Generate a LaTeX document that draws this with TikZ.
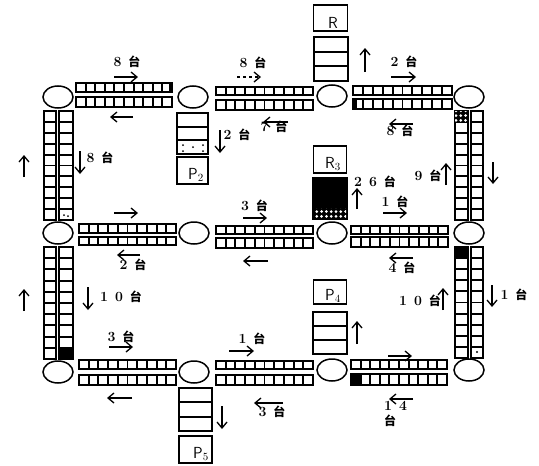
\documentclass[tikz,border=0pt]{standalone}
\usepackage{fontspec}
\newfontfamily\cjk{Noto Sans CJK SC}
\usepackage{tikz}
\usetikzlibrary{arrows.meta, patterns.meta, shapes.geometric}
\newcommand{\tai}{{\fontsize{12}{12}\cjk\bfseries 台}}
% belts: left, top, right, bottom
\newcommand{\hbelt}[4]{
  \draw[belt] (#1,#2) rectangle (#3,#4);
  \foreach \k in {1,...,9} \draw[belt] ({#1+\k*(#3-#1)/10},#2) -- ({#1+\k*(#3-#1)/10},#4);
}
\newcommand{\vbelt}[4]{
  \draw[belt] (#1,#2) rectangle (#3,#4);
  \foreach \k in {1,...,9} \draw[belt] (#1,{#2+\k*(#4-#2)/10}) -- (#3,{#2+\k*(#4-#2)/10});
}
\newcommand{\buffer}[4]{
  \draw[belt] (#1,#2) rectangle (#3,#4);
  \foreach \k in {1,2} \draw[belt] (#1,{#2+\k*(#4-#2)/3}) -- (#3,{#2+\k*(#4-#2)/3});
}

\begin{document}
\begin{tikzpicture}[
  x=1pt, y=-1pt,
  every node/.style={inner sep=0pt},
  belt/.style={draw=black, line width=1.9pt},
  turn/.style={draw=black, line width=1.5pt, ellipse, minimum width=30pt, minimum height=22pt},
  machine/.style={draw=black, line width=1.5pt, minimum width=33pt, minimum height=26pt},
  flow/.style={-{Straight Barb[length=6pt,width=10pt]}, line width=1.3pt, color=black},
  count/.style={font=\fontsize{14}{15}\selectfont\bfseries, align=left},
  plate/.style={font=\fontsize{16}{16}\sffamily},
  beads/.style={pattern={Dots[radius=1.5pt,distance=4.8pt]}, pattern color=white},
]
\useasboundingbox (0,0) rectangle (539,466);

% Turntables
\node[turn] (t11) at (58,97)  {};
\node[turn] (t12) at (193,97) {};
\node[turn] (t13) at (332,96) {};
\node[turn] (t14) at (469,97) {};
\node[turn] (t21) at (58,233)  {};
\node[turn] (t22) at (194,233) {};
\node[turn] (t23) at (332,233) {};
\node[turn] (t24) at (469,233) {};
\node[turn] (t31) at (58,372)  {};
\node[turn] (t32) at (194,372) {};
\node[turn] (t33) at (332,370) {};
\node[turn] (t34) at (469,370) {};

% Row 1 belts
\hbelt{76}{83}{172}{92}
\hbelt{76}{97}{172}{107}
\hbelt{216}{87}{313}{95}
\hbelt{216}{100}{313}{110}
\hbelt{353}{86}{452}{95}
\hbelt{353}{99}{452}{109}
% Row 2 belts
\hbelt{79}{224}{176}{233}
\hbelt{79}{237}{176}{245}
\hbelt{216}{226}{313}{234}
\hbelt{216}{238}{313}{248}
\hbelt{351}{226}{448}{234}
\hbelt{351}{237}{448}{247}
% Row 3 belts
\hbelt{79}{360}{176}{369}
\hbelt{79}{375}{176}{385}
\hbelt{216}{361}{313}{369}
\hbelt{216}{375}{313}{385}
\hbelt{351}{360}{447}{369}
\hbelt{351}{374}{447}{385}

% Side belts
\vbelt{44}{111}{56}{220}
\vbelt{59}{111}{73}{220}
\vbelt{44}{247}{56}{359}
\vbelt{59}{247}{73}{359}
\vbelt{455}{111}{468}{220}
\vbelt{471}{111}{483}{220}
\vbelt{455}{247}{468}{358}
\vbelt{471}{247}{483}{358}

% Occupied cells
\fill (59,348) rectangle (73,359);
\fill (455,247) rectangle (468,258);
\fill (351,374) rectangle (361,385);
\fill (353,99) rectangle (357,109);
\fill (169,84) rectangle (172,91);
\fill (455,111) rectangle (468,122);
\fill[beads] (455,111) rectangle (468,122);
\fill (64,215) circle (1pt) (68,216) circle (1pt);
\fill (477,352) circle (1.2pt);

% Machines
\node[machine, minimum width=34pt] (p1) at (330.5,18)  {};
\node[machine, minimum width=31pt, minimum height=27pt] (p2) at (192.5,170.5) {};
\node[machine, minimum height=27pt] (p3) at (330,159.5) {};
\node[machine, minimum height=24pt] (p4) at (330,292) {};
\node[machine, minimum height=27pt] (p5) at (195.5,449.5) {};
\node[plate] (p1t) at (333,23) {R};
\node[plate] (p2t) at (196,175) {P$_2$};
\node[plate] (p3t) at (333,164) {R$_3$};
\node[plate] (p4t) at (333,296) {P$_4$};
\node[plate] (p5t) at (201,454) {P$_5$};

% Buffers
\buffer{314}{37}{348}{81}
\buffer{177}{113}{208}{154}
\buffer{313}{312}{347}{354}
\buffer{179}{388}{212}{431}
\fill (183,145) circle (1pt) (193,147) circle (1pt) (203,145) circle (1pt) (183,151) circle (1pt) (203,151) circle (1pt);
\draw[belt, fill=black] (313,178) rectangle (347,219);
\fill[beads] (314,208) rectangle (346,218);

% Top row flows
\draw[flow] (114,77) -- (138,77);
\node[count] (n1) at (127,62) {8\enspace\tai};
\draw[flow] (133,117) -- (110,117);
\draw[flow, dashed] (237,77) -- (261,77);
\node[count] (n2) at (253,63) {8\enspace\tai};
\draw[flow] (288,122) -- (263,122);
\node[count] (n3) at (274,127) {7\enspace\tai};
\draw[flow] (365,72) -- (365,48);
\draw[flow] (391,77) -- (416,77);
\node[count] (n4) at (404,62) {2\enspace\tai};
\draw[flow] (413,124) -- (389,124);
\node[count] (n5) at (400,131) {8\enspace\tai};

% Upper columns
\draw[flow] (24,177) -- (24,155);
\draw[flow] (80,151) -- (80,174);
\node[count] (n6) at (100,158) {8\enspace\tai};
\draw[flow] (220,130) -- (220,153);
\node[count] (n7) at (237,135) {2\enspace\tai};
\draw[flow] (357,209) -- (357,188);
\node[count] (n8) at (375,182) {2\enspace 6\enspace\tai};
\draw[flow] (446,185) -- (446,163);
\node[count] (n9) at (428,176) {9\enspace\tai};
\draw[flow] (493,162) -- (493,184);

% Middle row flows
\draw[flow] (114,213) -- (138,213);
\draw[flow] (243,218) -- (267,218);
\node[count] (n10) at (254.5,206) {3\enspace\tai};
\draw[flow] (383,213) -- (407,213);
\node[count] (n11) at (395,202) {1\enspace\tai};
\draw[flow] (140,255) -- (117,255);
\node[count] (n12) at (133,265) {2\enspace\tai};
\draw[flow] (268,261) -- (243,261);
\draw[flow] (413,258) -- (389,258);
\node[count] (n13) at (402,268) {4\enspace\tai};

% Lower columns
\draw[flow] (24,311) -- (24,289);
\draw[flow] (88,287) -- (88,310);
\node[count] (n14) at (121,297) {1\enspace 0\enspace\tai};
\draw[flow] (357,344) -- (357,321);
\draw[flow] (443,310) -- (443,288);
\node[count] (n15) at (420,301) {1\enspace 0\enspace\tai};
\draw[flow] (492,285) -- (492,307);
\node[count] (n16) at (514,295) {1\enspace\tai};

% Bottom row flows
\draw[flow] (109,347) -- (133,347);
\node[count] (n17) at (121,337) {3\enspace\tai};
\draw[flow] (229,351) -- (254,351);
\node[count] (n18) at (252,339) {1\enspace\tai};
\draw[flow] (388,356) -- (412,356);
\draw[flow] (132,398) -- (107,398);
\draw[flow] (222,406) -- (222,429);
\draw[flow] (283,403) -- (254,403);
\node[count] (n19) at (272,412) {3\enspace\tai};
\draw[flow] (413,399) -- (389,399);
\node[count, anchor=north west] (n20) at (384,401) {1\enspace 4\\\tai};

\end{tikzpicture}
\end{document}
